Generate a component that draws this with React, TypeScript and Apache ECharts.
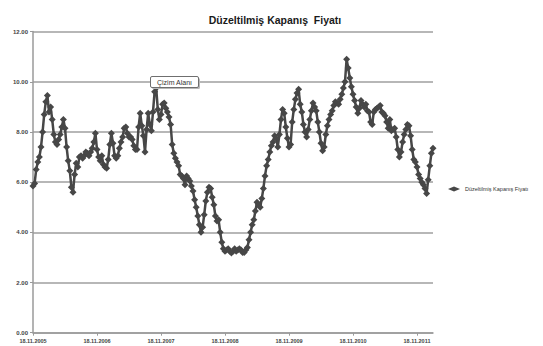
import React, { useEffect, useRef } from "react";
import * as echarts from "echarts";

// Adjusted closing price, one point roughly every 9 days from 18.11.2005
const closePrices: number[] = [
  5.85, 5.95, 6.5, 6.8, 7.0, 7.4, 8.0, 8.7, 9.2, 9.45,
  8.8, 9.0, 8.5, 7.9, 7.6, 7.5, 7.7, 7.9, 8.2, 8.5,
  8.15, 7.4, 6.85, 6.45, 5.8, 5.6, 6.3, 6.75, 6.6, 7.0,
  7.05, 6.95, 7.05, 7.2, 7.15, 7.05, 7.2, 7.35, 7.6, 7.95,
  7.3, 7.0, 6.85, 7.05, 6.7, 6.6, 6.55, 6.9, 7.5, 7.95,
  7.55, 7.05, 6.95, 7.05, 7.35, 7.6, 7.8, 8.15, 8.2, 7.95,
  7.8, 7.8, 7.7, 7.45, 7.3, 7.3, 8.2, 8.75, 8.25, 7.85,
  7.2, 8.1, 8.75, 8.3, 8.05, 8.8, 9.6, 9.75, 8.9, 8.5,
  8.7, 9.1, 9.15, 8.95, 8.8, 8.6, 8.3, 7.5, 7.15, 6.95,
  6.8, 6.65, 6.3, 6.25, 6.15, 5.9, 6.25, 6.15, 6.05, 5.85,
  5.65, 5.3, 5.0, 4.65, 4.3, 4.0, 4.2, 4.7, 5.25, 5.6,
  5.8, 5.75, 5.4, 5.1, 4.65, 4.45, 4.5, 4.0, 3.6, 3.35,
  3.25, 3.3, 3.35, 3.25, 3.18, 3.25, 3.35, 3.25, 3.3, 3.35,
  3.3, 3.2, 3.2, 3.3, 3.4, 3.7, 4.0, 4.3, 4.5, 4.85,
  5.2, 5.1, 5.0, 5.35, 5.75, 6.25, 6.65, 6.9, 7.2, 7.45,
  7.6, 7.85, 7.75, 7.4, 7.9, 8.5, 8.9, 8.75, 8.2, 7.75,
  7.4, 7.5, 8.4, 8.9, 9.3, 9.55, 9.7, 9.1, 8.8, 8.3,
  8.0, 7.8, 8.1, 8.5, 8.85, 9.15, 9.0, 8.85, 8.4, 8.0,
  7.55, 7.25, 7.4, 7.9, 8.25, 8.5, 8.7, 8.85, 9.05, 9.2,
  9.15, 9.1, 9.3, 9.5, 9.75, 10.0, 10.9, 10.55, 10.15, 9.8,
  9.5, 9.25, 9.0, 8.75, 8.95, 9.25, 9.1, 9.0, 9.1, 8.85,
  8.8, 8.4, 8.3, 8.8, 8.9, 8.95, 9.0, 9.05, 8.8, 8.75,
  8.65, 8.4, 8.15, 8.5, 8.05, 8.1, 8.15, 7.8, 7.3, 7.0,
  7.2, 7.6, 7.9, 8.1, 8.3, 8.25, 7.85, 7.3, 6.9, 6.8,
  6.6, 6.3, 6.15, 6.0, 5.9, 5.75, 5.55, 6.1, 6.65, 7.15,
  7.35,
];

// Yearly date labels on the horizontal axis
const dateLabels: string[] = [
  "18.11.2005",
  "18.11.2006",
  "18.11.2007",
  "18.11.2008",
  "18.11.2009",
  "18.11.2010",
  "18.11.2011",
];
const pointsPerYear = 40;

const seriesName = "Düzeltilmiş Kapanış Fiyatı";
const chartTitle = "Düzeltilmiş Kapanış  Fiyatı";
const plotAreaTip = "Çizim Alanı";

const FONT = "'Liberation Sans', Arial, sans-serif";

export default function App() {
  const ref = useRef<HTMLDivElement>(null);

  useEffect(() => {
    if (!ref.current) return;
    const chart = echarts.init(ref.current, undefined, { renderer: "svg" });
    const categories = closePrices.map((_, i) => String(i));
    const isYearTick = (i: number) => i % pointsPerYear === 0;

    chart.setOption({
      animation: false,
      backgroundColor: "#ffffff",
      title: {
        text: chartTitle,
        left: 270,
        textAlign: "center",
        top: 9,
        textStyle: {
          fontFamily: FONT,
          fontSize: 10.5,
          fontWeight: "bold",
          color: "#1a1a1a",
        },
      },
      legend: {
        show: true,
        left: 443,
        top: 181,
        itemWidth: 12,
        itemHeight: 5,
        itemGap: 2,
        textStyle: { fontFamily: FONT, fontSize: 5.5, color: "#333333" },
        data: [{ name: seriesName, icon: "diamond" }],
      },
      grid: { left: 33, right: 110, top: 31.6, bottom: 13.3, containLabel: false },
      xAxis: {
        type: "category",
        data: categories,
        boundaryGap: false,
        axisLine: { show: true, lineStyle: { color: "#9a9a9a", width: 1.5 } },
        axisTick: {
          show: true,
          interval: (i: number) => isYearTick(i),
          length: 3,
          lineStyle: { color: "#9a9a9a" },
        },
        axisLabel: {
          interval: (i: number) => isYearTick(i),
          formatter: (_v: string, i: number) =>
            isYearTick(i) ? dateLabels[i / pointsPerYear] ?? "" : "",
          fontFamily: FONT,
          fontSize: 5.5,
          fontWeight: "bold",
          color: "#444444",
          margin: 5,
        },
        splitLine: { show: false },
      },
      yAxis: {
        type: "value",
        min: 0,
        max: 12,
        interval: 2,
        axisLine: { show: true, lineStyle: { color: "#9a9a9a", width: 1.5 } },
        axisTick: { show: true, length: 3, lineStyle: { color: "#9a9a9a" } },
        axisLabel: {
          formatter: (v: number) => v.toFixed(2),
          fontFamily: FONT,
          fontSize: 6,
          fontWeight: "bold",
          color: "#444444",
          margin: 5,
        },
        splitLine: { show: true, lineStyle: { color: "#9f9f9f", width: 1.5 } },
      },
      series: [
        {
          name: seriesName,
          type: "line",
          data: closePrices,
          symbol: "diamond",
          symbolSize: 7,
          showSymbol: true,
          showAllSymbol: true,
          itemStyle: { color: "#474747" },
          lineStyle: { color: "#474747", width: 2.5 },
          z: 3,
        },
      ],
      graphic: [
        {
          type: "group",
          left: 150,
          top: 76,
          z: 100,
          children: [
            {
              type: "rect",
              z: 100,
              shape: { x: 1.5, y: 1.5, width: 48, height: 11, r: 1.5 },
              style: { fill: "#b8b8b8" },
            },
            {
              type: "rect",
              z: 101,
              shape: { x: 0, y: 0, width: 48, height: 11, r: 1.5 },
              style: { fill: "#ffffff", stroke: "#6f6f6f", lineWidth: 1 },
            },
            {
              type: "text",
              z: 102,
              x: 24,
              y: 5.5,
              style: {
                text: plotAreaTip,
                fontFamily: FONT,
                fontSize: 7,
                fill: "#333333",
                align: "center",
                verticalAlign: "middle",
              },
            },
          ],
        },
      ],
    });

    return () => chart.dispose();
  }, []);

  return (
    <div
      ref={ref}
      style={{ position: "fixed", left: 0, top: 0, width: 543, height: 346 }}
    />
  );
}
